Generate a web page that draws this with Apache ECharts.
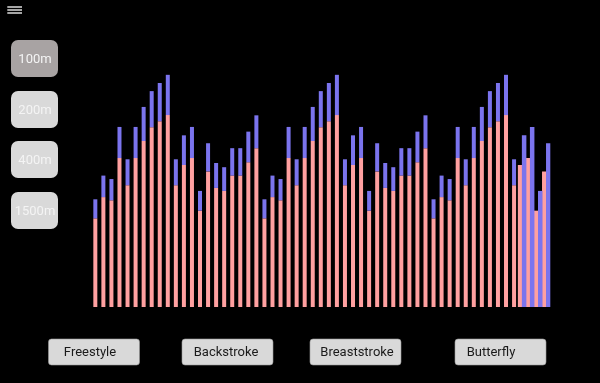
<!DOCTYPE html>
<html><head><meta charset="utf-8">
<script src="https://cdn.jsdelivr.net/npm/echarts@6/dist/echarts.min.js"></script>
<style>html,body{margin:0;padding:0;background:#000;}#c{width:600px;height:383px;}</style>
</head><body><div id="c"></div>
<script>
const categories = [
  'R1','R2','R3','R4','R5','R6','R7','R8','R9','R10','R11','R12','R13','R14','R15','R16','R17','R18','R19','R20','R21',
  'R22','R23','R24','R25','R26','R27','R28','R29','R30','R31','R32','R33','R34','R35','R36','R37','R38','R39','R40','R41','R42',
  'R43','R44','R45','R46','R47','R48','R49','R50','R51','R52','R53','R54','R55','R56','R57'
];
const pinkValues = [
  35.9,44.5,43.2,60.3,49.3,60.3,67.2,72.8,75.2,77.7,49.3,57.5,60.3,39.0,54.9,48.2,47.0,53.2,53.2,58.6,64.3,
  35.9,44.5,43.2,60.3,49.3,60.3,67.2,72.8,75.2,77.7,49.3,57.5,60.3,39.0,54.9,48.2,47.0,53.2,53.2,58.6,64.3,
  35.9,44.5,43.2,60.3,49.3,60.3,67.2,72.8,75.2,77.7,49.3,57.5,60.3,39.0,54.9
];
const blueValues = [
  7.7,8.7,8.6,12.6,10.5,12.6,13.8,14.6,15.5,16.3,10.5,12.0,12.6,8.0,11.4,10.1,9.6,11.1,11.1,12.4,13.3,
  7.7,8.7,8.6,12.6,10.5,12.6,13.8,14.6,15.5,16.3,10.5,12.0,12.6,8.0,11.4,10.1,9.6,11.1,11.1,12.4,13.3,
  7.7,8.7,8.6,12.6,10.5,12.6,13.8,14.6,15.5,16.3,10.5,12.0,12.6,8.0,11.4
];
const distanceButtons = ['100m','200m','400m','1500m'];
const strokeButtons = ['Freestyle','Backstroke','Breaststroke','Butterfly'];
const splitIndex = 53; // bars from here drawn side by side (transition state)

const PINK = '#ffa0a0', BLUE = '#7b74ee';
const pinkMain = pinkValues.map((v,i)=> i < splitIndex ? v : '-');
const blueMain = blueValues.map((v,i)=> i < splitIndex ? v : '-');
const pinkSplit = pinkValues.map((v,i)=> i >= splitIndex ? v : '-');
const blueSplit = blueValues.map((v,i)=> i >= splitIndex ? +(v + pinkValues[i]).toFixed(1) : '-');

const FONT = '13px Roboto, "Liberation Sans", Arial, sans-serif';
const graphics = [];
// hamburger icon
[6.3, 9.3, 12.3].forEach(y => graphics.push({type:'rect', shape:{x:7.3,y:y,width:14.7,height:1.4}, style:{fill:'#ececec'}}));
// distance buttons
const leftTops = [40, 91, 141, 192];
distanceButtons.forEach((t,i) => {
  graphics.push({type:'rect', shape:{x:11,y:leftTops[i],width:47,height:37,r:7},
    style:{fill: i===0 ? '#a8a3a3' : '#d9d9d9'}});
  graphics.push({type:'text', x:35, y:leftTops[i]+19.5,
    style:{text:t, fill:'#f4f4f4', font:FONT, textAlign:'center', textVerticalAlign:'middle'}});
});
// stroke buttons
const bottomLefts = [48.5, 182, 310, 455];
const textCenters = [90, 226, 357, 491];
strokeButtons.forEach((t,i) => {
  graphics.push({type:'rect', shape:{x:bottomLefts[i],y:339,width:91,height:26,r:3},
    style:{fill:'#d9d9d9', stroke:'#9a9a9a', lineWidth:0.6}});
  graphics.push({type:'text', x:textCenters[i], y:352.5,
    style:{text:t, fill:'#1a1a1a', font:FONT, textAlign:'center', textVerticalAlign:'middle'}});
});

const chart = echarts.init(document.getElementById('c'), null, {renderer:'canvas'});
chart.setOption({
  backgroundColor:'#000',
  animation:false,
  grid:{left:91.3, right:49.7, top:60, bottom:76},
  xAxis:[
    {type:'category', data:categories, show:false, boundaryGap:true},
    {type:'category', data:categories, show:false, boundaryGap:true, position:'bottom'}
  ],
  yAxis:{type:'value', min:0, max:100, show:false},
  series:[
    {type:'bar', name:'pink', stack:'a', xAxisIndex:0, data:pinkMain, barWidth:4, itemStyle:{color:PINK}},
    {type:'bar', name:'blue', stack:'a', xAxisIndex:0, data:blueMain, barWidth:4, itemStyle:{color:BLUE}},
    {type:'bar', name:'pinkSplit', xAxisIndex:1, data:pinkSplit, barWidth:4.5, barGap:'-11%', itemStyle:{color:PINK}},
    {type:'bar', name:'blueSplit', xAxisIndex:1, data:blueSplit, barWidth:4.5, barGap:'-11%', itemStyle:{color:BLUE}}
  ],
  graphic: graphics
});
</script></body></html>
